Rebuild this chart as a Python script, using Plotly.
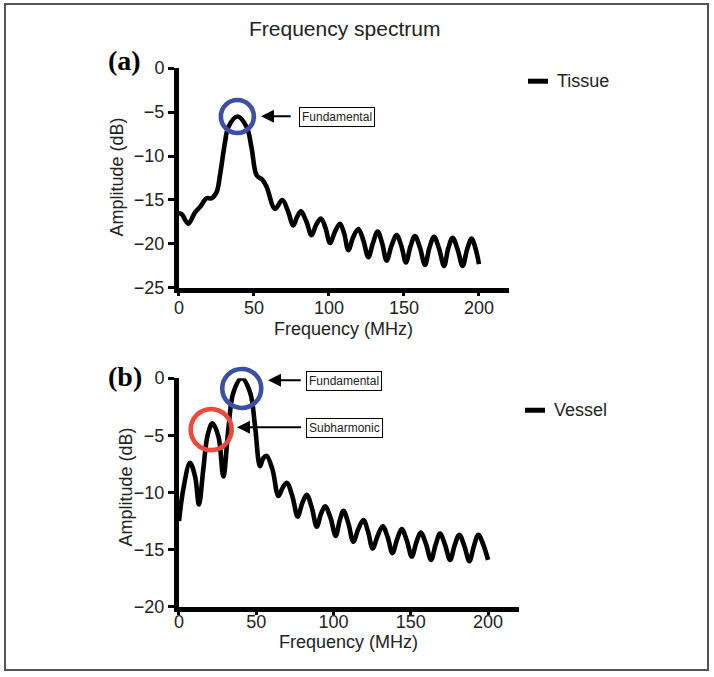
import plotly.graph_objects as go

# Figure canvas (page pixels)
W, H = 714, 690
# The photographed picture shows page point (x, y) at (SX0 + SX*x, SY0 + SY*y);
# layout positions below are given in picture pixels and converted back.
SX0, SX = 5.0, 0.993
SY0, SY = 12.0, 0.968

# ---------------- data ----------------
tissue_freq = [0, 1.8, 6.2, 10.7, 14, 18.4, 21.8, 25.1, 27.3, 30.7, 32.9, 38.9, 45.1, 48.4,
               51.8, 55.6, 58.4, 64, 68.9, 72.5, 76.2, 78.8, 81.3, 84.8, 88.4, 91.5, 94.7,
               97.7, 100.7, 104, 107.3, 110.1, 112.9, 116.2, 119.6, 122.9, 126.2, 129.3,
               132.4, 135.4, 138.4, 141.7, 145.1, 148.2, 151.3, 154.3, 157.3, 160.6, 164,
               167, 170, 173.3, 176.7, 179.5, 182.4, 185.7, 189.1, 192.1, 195.1, 197.5, 200]
tissue_db = [-16.5, -16.6, -17.7, -16.4, -15.8, -14.8, -14.8, -14.1, -12.2, -8.4, -6.7, -5.5,
             -6.7, -9.1, -12.2, -12.7, -13.5, -16.0, -15.0, -16.2, -17.9, -16.9, -16.3, -17.4,
             -19.0, -17.8, -17.1, -18.2, -19.9, -18.6, -17.7, -18.8, -20.7, -19.2, -18.3,
             -19.6, -21.5, -19.9, -18.6, -19.9, -21.9, -20.2, -19.0, -20.2, -22.1, -20.3,
             -19.1, -20.4, -22.4, -20.4, -19.2, -20.5, -22.5, -20.5, -19.3, -20.6, -22.5,
             -20.6, -19.4, -20.4, -22.3]

vessel_freq = [0, 2.8, 7.1, 10.4, 12.9, 15.7, 18.5, 21.6, 25.5, 28.7, 31.9, 35.2, 40.6, 46,
               49.2, 52.4, 54.5, 56.7, 60.5, 64.3, 67, 69.7, 73.3, 76.8, 79.7, 82.6, 85.9,
               89.1, 91.8, 94.5, 98, 101.4, 103.9, 106.4, 109.6, 112.8, 116, 119.3, 122.3,
               125.3, 128.5, 131.8, 135, 138.1, 141.1, 144.1, 147.4, 150.6, 153.5, 156.4,
               159.8, 163.1, 166, 168.9, 172.2, 175.4, 178.4, 181.4, 184.7, 187.9, 190.8,
               193.7, 197, 200]
vessel_db = [-12.5, -9.7, -7.4, -8.6, -11.05, -8.0, -5.0, -3.95, -5.1, -8.6, -4.5, -1.25, 0,
             -1.25, -4.2, -7.7, -7.0, -6.8, -8.0, -10.3, -9.6, -9.15, -10.3, -12.1, -10.95,
             -10.2, -11.3, -13.0, -11.9, -11.2, -12.2, -13.8, -12.5, -11.6, -12.7, -14.3,
             -13.2, -12.4, -13.4, -14.9, -13.8, -12.95, -13.9, -15.3, -14.1, -13.2, -14.2,
             -15.6, -14.4, -13.5, -14.5, -15.9, -14.6, -13.6, -14.6, -15.9, -14.6, -13.7,
             -14.7, -16.0, -14.7, -13.7, -14.6, -15.9]

x_ticks = [0, 50, 100, 150, 200]
y_ticks_a = [0, -5, -10, -15, -20, -25]
y_ticks_b = [0, -5, -10, -15, -20]

# peaks marked by circles: (freq, dB)
tissue_fund = (38.9, -5.5)
vessel_fund = (40.6, -0.9)
vessel_sub = (20.8, -4.5)

# ---------------- helpers (picture pixels -> paper) ----------------
def px(x):
    return ((x - SX0) / SX) / W

def py(y):
    return 1 - ((y - SY0) / SY) / H

FONT = "Liberation Sans, Arial, Helvetica, sans-serif"
BLUE = "#3B50A5"
RED = "#EC4A3E"

fig = go.Figure()
fig.add_trace(go.Scatter(x=tissue_freq, y=tissue_db, mode="lines", name="Tissue",
                         line=dict(color="black", width=4.6, shape="spline", smoothing=1.0),
                         xaxis="x", yaxis="y", showlegend=False, hoverinfo="skip"))
fig.add_trace(go.Scatter(x=vessel_freq, y=vessel_db, mode="lines", name="Vessel",
                         line=dict(color="black", width=4.6, shape="spline", smoothing=1.0),
                         xaxis="x2", yaxis="y2", showlegend=False, hoverinfo="skip"))

def ring(pt, size, color, xa, ya):
    return go.Scatter(x=[pt[0]], y=[pt[1]], mode="markers", xaxis=xa, yaxis=ya,
                      marker=dict(symbol="circle-open", size=size, color=color,
                                  line=dict(width=4.6, color=color)),
                      cliponaxis=False, showlegend=False, hoverinfo="skip")

fig.add_trace(ring(tissue_fund, 33, BLUE, "x", "y"))
fig.add_trace(ring(vessel_fund, 39, BLUE, "x2", "y2"))
fig.add_trace(ring(vessel_sub, 41, RED, "x2", "y2"))

axis_common = dict(showline=True, linecolor="black", linewidth=5, ticks="outside",
                   ticklen=6, tickwidth=3, tickcolor="black", showgrid=False, zeroline=False,
                   tickfont=dict(family=FONT, size=18, color="#222"), fixedrange=True)

fig.update_layout(
    width=W, height=H, margin=dict(l=0, r=0, t=0, b=0),
    paper_bgcolor="white", plot_bgcolor="white",
    xaxis=dict(domain=[px(179), px(509)], range=[0, 220], tickvals=x_ticks, anchor="y",
               **{**axis_common, "ticklen": 3}, ticklabelstandoff=-3),
    yaxis=dict(domain=[py(289), py(70)], range=[-25, 0], tickvals=y_ticks_a, anchor="x",
               **axis_common),
    xaxis2=dict(domain=[px(179), px(519)], range=[0, 220], tickvals=x_ticks, anchor="y2",
                **{**axis_common, "ticklen": 3}, ticklabelstandoff=-8),
    yaxis2=dict(domain=[py(607), py(379)], range=[-20, 0], tickvals=y_ticks_b, anchor="x2",
                **axis_common),
)

shapes = []
# outer frame
shapes.append(dict(type="rect", xref="paper", yref="paper", x0=px(5), x1=px(708),
                   y0=py(670), y1=py(6), line=dict(color="#555", width=2)))
# legend lines
shapes.append(dict(type="line", xref="paper", yref="paper", x0=px(528), x1=px(548),
                   y0=py(83), y1=py(83), line=dict(color="black", width=5)))
shapes.append(dict(type="line", xref="paper", yref="paper", x0=px(525), x1=px(545),
                   y0=py(411), y1=py(411), line=dict(color="black", width=5)))

ann = []
def text(x, y, s, size, **kw):
    d = dict(xref="paper", yref="paper", x=px(x), y=py(y), text=s, showarrow=False,
             font=dict(family=FONT, size=size, color="#222"), xanchor="center",
             yanchor="middle")
    d.update(kw)
    return d

SERIF = dict(family="Liberation Serif, Times New Roman, serif", size=28, color="black")
ann.append(text(345, 30, "Frequency spectrum", 21))
ann.append(text(125, 62, "<b>(a)</b>", 28, font=SERIF))
ann.append(text(125, 377, "<b>(b)</b>", 28, font=SERIF))
ann.append(text(117, 178, "Amplitude (dB)", 18, textangle=-90))
ann.append(text(126, 487, "Amplitude (dB)", 18, textangle=-90))
ann.append(text(344, 330, "Frequency (MHz)", 18))
ann.append(text(349, 642, "Frequency (MHz)", 18))
ann.append(text(555, 83, "Tissue", 18, xanchor="left"))
ann.append(text(552, 411, "Vessel", 18, xanchor="left"))

def box(x, y, s):
    return text(x, y, s, 12, bordercolor="black", borderwidth=1, borderpad=2,
                bgcolor="white")
ann.append(box(337.5, 119, "Fundamental"))
ann.append(box(344, 382, "Fundamental"))
ann.append(box(345, 429, "Subharmonic"))

def arrow(tipx, tipy, tailx):
    return dict(xref="paper", yref="paper", x=px(tipx), y=py(tipy),
                ax=(tailx - tipx) / SX, ay=0,
                axref="pixel", ayref="pixel", text="", showarrow=True, arrowhead=2,
                arrowsize=1.3, arrowwidth=2, arrowcolor="black")
ann.append(arrow(261, 118, 292))
ann.append(arrow(268, 381, 302))
ann.append(arrow(237, 428, 302))

fig.update_layout(shapes=shapes, annotations=ann)

PAGE_CSS = (
    "var h=document.documentElement, b=document.body;"
    "[h,b].forEach(function(e){e.style.margin='0';e.style.padding='0';});"
    "h.style.overflow='hidden';"
)
fig.write_html("out.html", config={"displayModeBar": False}, post_script=PAGE_CSS)
